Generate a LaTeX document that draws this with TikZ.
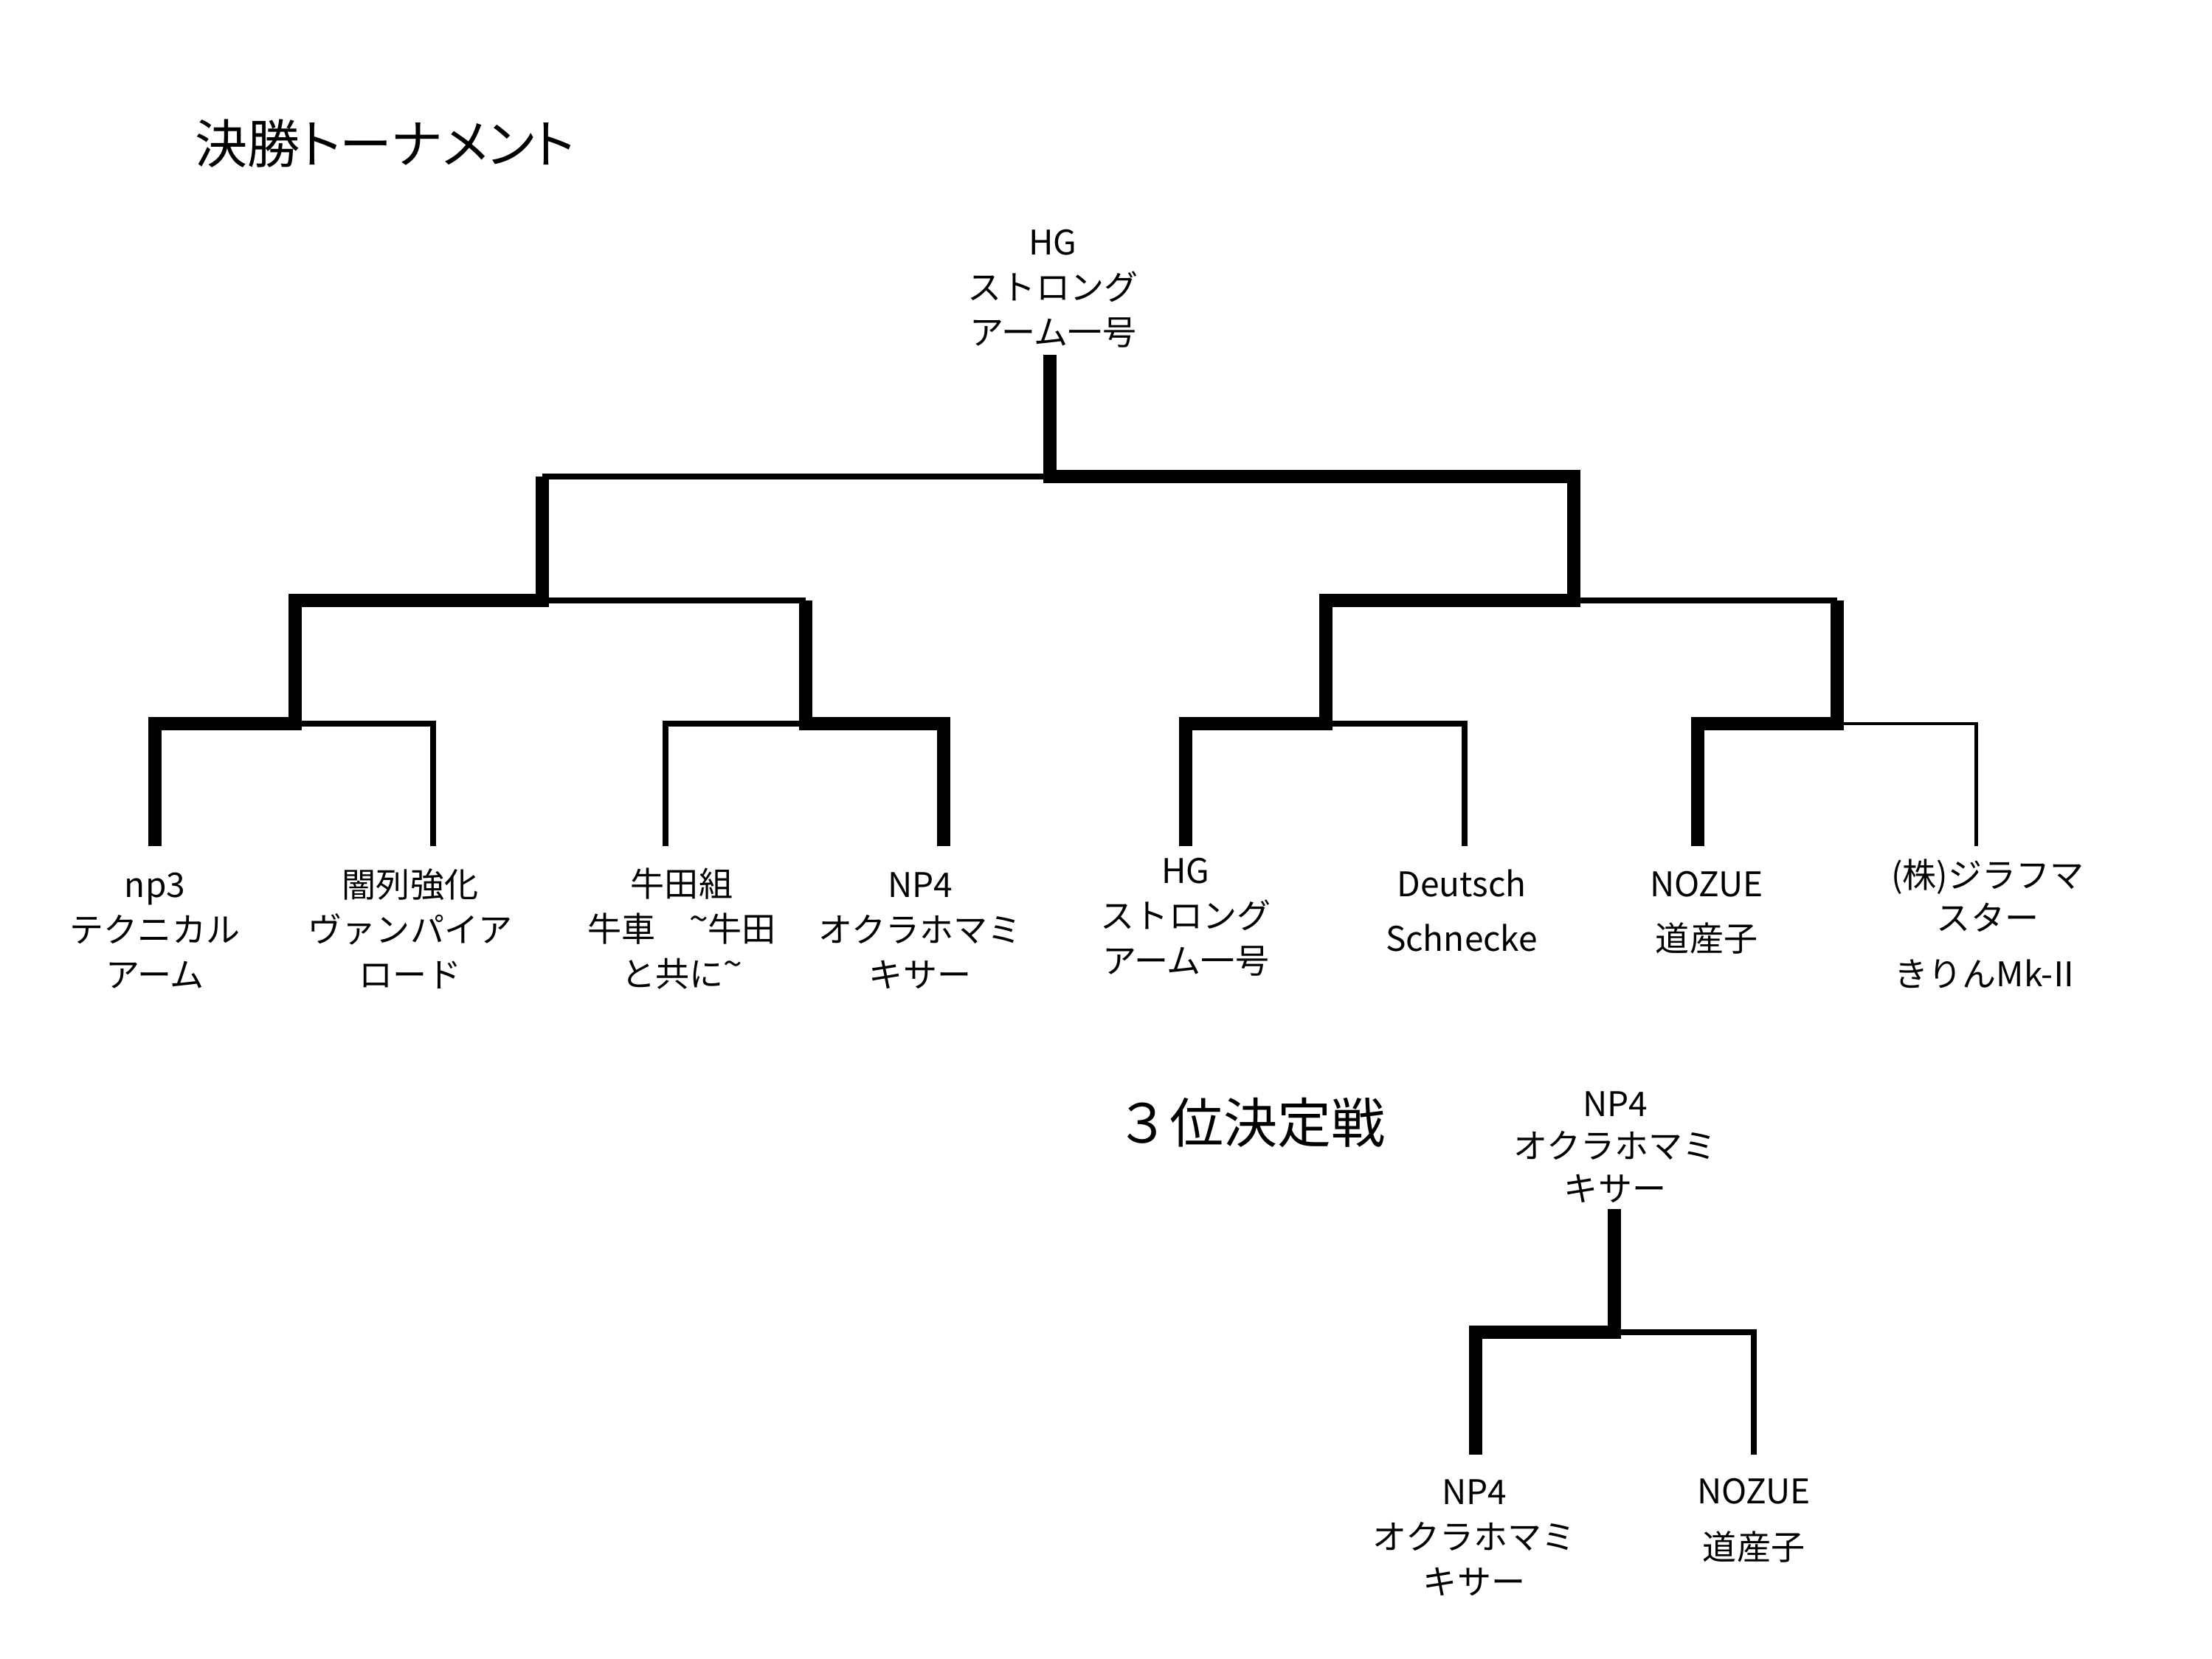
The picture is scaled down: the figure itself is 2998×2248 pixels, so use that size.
\documentclass[tikz,border=0pt]{standalone}
\usepackage{fontspec}
\setmainfont{Noto Sans CJK JP}
\newfontfamily\headpfont[RawFeature=+palt]{Noto Sans CJK JP}
\newfontfamily\headffont{Noto Sans CJK JP}
\newcommand\lblfont{\fontsize{13.09pt}{17.36pt}\selectfont}
\newcommand\tld{\raisebox{0.3em}{\textasciitilde}}
\tikzset{
  lbl/.style={font=\lblfont, align=center, inner sep=0pt},
  headp/.style={font=\headpfont\fontsize{20.2pt}{25pt}\selectfont, inner sep=0pt},
  headf/.style={font=\headffont\fontsize{20.77pt}{25pt}\selectfont, inner sep=0pt},
  win/.style={line width=5.12pt, line join=miter, line cap=butt},
  lose/.style={line width=2.28pt, line join=miter, line cap=butt},
  loseb/.style={line width=1.4pt, line join=miter, line cap=butt}
}
\begin{document}
\begin{tikzpicture}[x=0.01cm, y=-0.01cm]
\fill[white] (0,0) rectangle (2998,2248);
\useasboundingbox (0,0) rectangle (2998,2248);

% headings
\node[headp, anchor=west] (title) at (264,195) {決勝トーナメント};
\node[headf] (third) at (1695,1522) {３位決定戦};

% labels
\node[lbl] (champ) at (1427,391) {HG\\ストロング\\アーム一号};
\node[lbl] (np3) at (210,1262) {np3\\テクニカル\\アーム};
\node[lbl] (yami) at (556,1259) {闇列強化\\ヴァンパイア\\ロード};
\node[lbl] (ushida) at (924,1259) {牛田組\\牛車　\tld 牛田\\と共に\tld};
\node[lbl] (np4) at (1247,1262) {NP4\\オクラホマミ\\キサー};
\node[lbl] (hg) at (1607,1243) {HG\\ストロング\\アーム一号};
\node[lbl] (deutsch) at (1981,1234) {Deutsch\\[3.7pt]Schnecke};
\node[lbl] (nozue) at (2313,1237) {NOZUE\\[3.7pt]道産子};
\node[lbl] (kirin) at (2694,1252) {(株)ジラフマ\\[-0.9pt]スター\\[4.3pt]きりんMk-\kern-0.18emⅡ};
\node[lbl] (t3win) at (2189,1555) {NP4\\[-1.1pt]オクラホマミ\\[-1.1pt]キサー};
\node[lbl] (t3np4) at (1998,2085) {NP4\\オクラホマミ\\キサー};
\node[lbl] (t3nozue) at (2377,2061) {NOZUE\\[4.3pt]道産子};

% bracket points
\coordinate (e1) at (210,1147);
\coordinate (e2) at (587,1147);
\coordinate (e3) at (902,1147);
\coordinate (e4) at (1279,1147);
\coordinate (e5) at (1607,1147);
\coordinate (e6) at (1985,1147);
\coordinate (e7) at (2301,1147);
\coordinate (e8) at (2678,1147);
\coordinate (j1) at (400,981);
\coordinate (j2) at (1092,981);
\coordinate (j3) at (1797,981);
\coordinate (j4) at (2490,981);
\coordinate (k1) at (735,814);
\coordinate (k2) at (2133,814);
\coordinate (f) at (1423,646);
\coordinate (fT) at (1423,481);

% final tournament
\draw[win] (e1) |- (j1) |- (k1) -- (k1 |- f);
\draw[lose] (k1 |- f) -- (f);
\draw[lose] (e2) |- (j1);
\draw[lose] (e3) |- (j2);
\draw[win] (e4) |- (j2) -- (j2 |- k1);
\draw[lose] (j2 |- k1) -- (k1);
\draw[win] (e5) |- (j3) |- (k2) |- (f) -- (fT);
\draw[lose] (e6) |- (j3);
\draw[win] (e7) |- (j4) -- (j4 |- k2);
\draw[lose] (j4 |- k2) -- (k2);
\draw[loseb] (e8) |- (j4);

% third place
\coordinate (e9) at (2000,1972);
\coordinate (e10) at (2377,1972);
\coordinate (g) at (2188,1806);
\coordinate (gT) at (2188,1639);
\draw[win] (e9) |- (g) -- (gT);
\draw[lose] (e10) |- (g);
\end{tikzpicture}
\end{document}
